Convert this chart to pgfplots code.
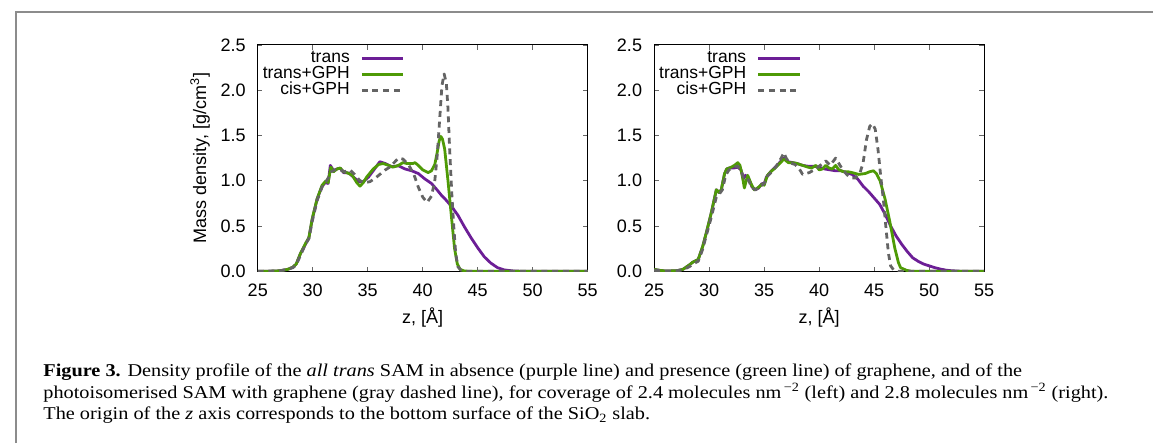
\documentclass[border=0pt]{standalone}
\usepackage{pgfplots}
\pgfplotsset{compat=1.18}
\usepackage{fontspec}
\setmainfont{Liberation Sans}
\newfontfamily\capfont{Liberation Serif}
\usepackage{graphicx}

\definecolor{cpurple}{RGB}{108,30,150}
\definecolor{cgreen}{RGB}{78,154,6}
\definecolor{cgray}{RGB}{100,100,100}
\definecolor{cframe}{RGB}{140,140,140}

\pgfplotstableread{
z d
25 0
26 0
27 0.005
27.7 0.02
28.2 0.045
28.5 0.08
28.9 0.2
29.35 0.3
29.65 0.37
29.95 0.57
30.4 0.8
30.85 0.94
31.15 0.98
31.4 0.97
31.6 1.17
31.9 1.11
32.2 1.13
32.5 1.14
32.8 1.09
33.3 1.085
33.7 1.04
34.2 0.99
34.6 0.99
35.07 1.04
35.5 1.11
36.1 1.21
36.6 1.19
37.2 1.155
37.8 1.165
38.4 1.13
39.0 1.11
39.6 1.08
40.2 1.02
40.8 0.97
41.3 0.90
41.7 0.84
42.1 0.79
42.6 0.72
43.2 0.62
43.8 0.49
44.4 0.37
45.0 0.26
45.6 0.16
46.2 0.09
46.8 0.04
47.4 0.015
48.2 0.004
49 0
55 0
}\LeftTrans

\pgfplotstableread{
z d
25 0
26 0
27 0.005
27.7 0.02
28.2 0.045
28.5 0.08
28.9 0.2
29.35 0.31
29.65 0.37
29.95 0.58
30.4 0.8
30.85 0.95
31.2 1.0
31.4 0.98
31.65 1.15
31.9 1.1
32.2 1.13
32.5 1.14
32.8 1.1
33.1 1.09
33.6 1.06
34.0 0.98
34.3 0.94
34.6 0.98
34.9 1.04
35.5 1.13
36.0 1.18
36.4 1.19
36.9 1.17
37.3 1.15
37.8 1.17
38.2 1.2
38.6 1.19
39.1 1.19
39.3 1.2
39.6 1.17
40.0 1.12
40.5 1.09
40.8 1.11
41.1 1.18
41.3 1.3
41.5 1.44
41.65 1.49
41.8 1.46
42.0 1.35
42.3 1.0
42.6 0.62
42.9 0.25
43.15 0.08
43.4 0.02
43.8 0.003
44.2 0
55 0
}\LeftTransG

\pgfplotstableread{
z d
25 0
27 0.005
27.7 0.02
28.2 0.04
28.5 0.07
28.9 0.18
29.35 0.3
29.65 0.36
29.95 0.55
30.4 0.78
30.85 0.93
31.2 0.99
31.5 1.05
31.7 1.1
32.0 1.12
32.5 1.12
32.9 1.1
33.4 1.12
33.8 1.07
34.3 1.0
34.8 0.98
35.2 0.99
35.7 1.03
36.2 1.08
36.6 1.12
37.0 1.15
37.4 1.2
37.8 1.25
38.2 1.24
38.7 1.18
39.2 1.07
39.6 0.93
40.0 0.82
40.4 0.76
40.8 0.83
41.1 1.0
41.3 1.25
41.5 1.6
41.75 2.05
41.95 2.18
42.15 2.08
42.3 1.8
42.45 1.35
42.65 0.85
42.85 0.45
43.0 0.2
43.2 0.05
43.5 0.01
44 0
55 0
}\LeftCis

\pgfplotstableread{
z d
25 0.02
25.5 0.01
26 0.003
27 0.005
27.6 0.02
28.2 0.07
28.5 0.1
29.0 0.13
29.4 0.27
29.75 0.43
30.2 0.65
30.65 0.9
30.9 0.87
31.1 0.9
31.4 1.08
31.6 1.13
31.8 1.14
32.2 1.14
32.6 1.15
32.9 1.12
33.1 1.02
33.3 1.06
33.6 1.02
33.9 0.93
34.2 0.9
34.5 0.92
34.8 0.97
35.0 0.96
35.2 1.04
35.6 1.1
36.0 1.15
36.4 1.2
36.8 1.25
37.2 1.21
37.6 1.2
38.0 1.19
38.5 1.17
39.0 1.16
39.5 1.16
40.0 1.15
40.5 1.13
41.0 1.12
41.5 1.11
42.0 1.11
42.5 1.09
43.0 1.07
43.5 1.02
44.0 0.94
44.5 0.88
45.0 0.81
45.5 0.74
46.0 0.63
46.5 0.5
47.0 0.39
47.5 0.3
48.0 0.22
48.5 0.15
49.0 0.11
49.5 0.08
50.0 0.06
50.5 0.04
51.0 0.025
51.5 0.013
52.0 0.006
52.8 0.001
53.5 0
55 0
}\RightTrans

\pgfplotstableread{
z d
25 0.02
25.5 0.01
26 0.003
27 0.005
27.6 0.02
28.2 0.07
28.5 0.1
29.0 0.13
29.4 0.27
29.75 0.43
30.2 0.65
30.65 0.9
30.9 0.87
31.1 0.9
31.4 1.08
31.6 1.13
31.8 1.14
32.0 1.15
32.3 1.17
32.6 1.2
32.8 1.17
33.0 1.06
33.2 0.92
33.5 1.06
33.8 0.97
34.1 0.9
34.4 0.92
34.85 0.965
35.0 0.95
35.3 1.06
35.6 1.1
36.0 1.14
36.4 1.19
36.8 1.24
37.2 1.2
37.6 1.2
38.0 1.19
38.5 1.17
39.0 1.15
39.3 1.14
39.7 1.17
40.0 1.12
40.3 1.13
40.6 1.17
40.9 1.14
41.2 1.13
41.5 1.17
41.8 1.12
42.2 1.1
42.6 1.1
43.0 1.09
43.6 1.07
44.2 1.08
44.6 1.1
44.94 1.11
45.2 1.08
45.54 1.0
45.99 0.8
46.44 0.54
46.89 0.25
47.2 0.1
47.4 0.04
47.95 0.01
48.4 0
55 0
}\RightTransG

\pgfplotstableread{
z d
25 0.01
26 0.003
27 0.005
27.6 0.015
28.2 0.05
28.5 0.08
29.0 0.11
29.4 0.24
29.75 0.4
30.2 0.6
30.65 0.82
30.9 0.85
31.2 0.9
31.5 1.06
31.8 1.12
32.2 1.15
32.6 1.16
32.9 1.12
33.1 1.04
33.3 1.05
33.6 1.0
33.9 0.92
34.2 0.9
34.5 0.92
34.8 0.95
35.0 0.97
35.3 1.05
35.7 1.1
36.1 1.16
36.5 1.24
36.8 1.31
37.0 1.25
37.3 1.2
37.8 1.18
38.2 1.13
38.5 1.07
39.1 1.09
39.7 1.13
40.3 1.19
40.6 1.22
41.0 1.17
41.5 1.25
42.0 1.15
42.5 1.07
42.9 1.03
43.3 1.03
43.7 1.08
44.0 1.2
44.3 1.45
44.6 1.6
44.85 1.63
45.1 1.57
45.35 1.35
45.6 1.05
45.85 0.78
46.1 0.45
46.3 0.2
46.5 0.06
46.8 0.01
47.2 0
55 0
}\RightCis

\pgfplotsset{
  densaxis/.style={
    scale only axis, width=249pt, height=170.8pt,
    xmin=25, xmax=55, ymin=0, ymax=2.5,
    xtick={25,30,35,40,45,50,55},
    ytick={0,0.5,1,1.5,2,2.5},
    tick align=inside, major tick length=3.5pt,
    axis line style={line width=0.75pt},
    every tick/.style={line width=0.6pt, black!60},
    /pgf/number format/assume math mode=true,
    y tick label style={/pgf/number format/fixed, /pgf/number format/fixed zerofill, /pgf/number format/precision=1},
    tick label style={font=\fontsize{13.6}{15}\selectfont},
    yticklabel style={inner sep=0pt, xshift=-9pt},
    xticklabel style={inner sep=0pt, yshift=-9.5pt},
    label style={font=\fontsize{13.6}{15}\selectfont},
    xlabel={z, [Å]},
    xlabel style={at={(axis description cs:0.5,-0.206)}, anchor=center},
    legend cell align=right,
    legend plot pos=right,
    legend image code/.code={\draw[##1] (0pt,0pt) -- (31.5pt,0pt);},
    legend style={draw=none, fill=none, at={(0.446,0.977)}, anchor=north east,
      inner sep=0pt, outer sep=0pt, column sep=8pt, row sep=0pt,
      font=\fontsize{13.2}{15}\selectfont,
      nodes={inner sep=0pt, text height=9.3pt, text depth=2.9pt}},
    every axis plot/.append style={line width=2.1pt, line join=round},
  },
  ptrans/.style={color=cpurple},
  pgreen/.style={color=cgreen},
  pcis/.style={color=cgray, dash pattern=on 4.5pt off 3.6pt},
}

\newcommand\capone{\textbf{Figure 3.} Density profile of the \textit{all trans} SAM in absence (purple line) and presence (green line) of graphene, and of the}
\newcommand\captwo{photoisomerised SAM with graphene (gray dashed line), for coverage of 2.4 molecules nm\textsuperscript{\,−2} (left) and 2.8 molecules nm\textsuperscript{\,−2} (right).}
\newcommand\capthree{The origin of the \textit{z} axis corresponds to the bottom surface of the SiO\textsubscript{2} slab.}
\newcommand\capsetup{\capfont\fontsize{13.6}{15}\selectfont}
\newlength\capw

\begin{document}
\settowidth\capw{\capsetup\captwo}
\pgfmathsetmacro\capscale{804/\capw}
\begin{tikzpicture}
\useasboundingbox (0,0) rectangle (864.75pt,-334.5pt);
\draw[cframe, line width=1.1pt] (6.5pt,-334.5pt) -- (6.5pt,-9.2pt) -- (864.75pt,-9.2pt);

\begin{axis}[densaxis, at={(189pt,-204.75pt)}, anchor=south west,
  ylabel={Mass density, [g/cm\textsuperscript{3}]},
  ylabel style={at={(axis description cs:-0.175,0.5)}, anchor=center}]
\addplot[ptrans] table[x=z,y=d] {\LeftTrans};
\addlegendentry{trans}
\addplot[pgreen] table[x=z,y=d] {\LeftTransG};
\addlegendentry{trans+GPH}
\addplot[pcis] table[x=z,y=d] {\LeftCis};
\addlegendentry{cis+GPH}
\end{axis}

\begin{axis}[densaxis, at={(488.25pt,-204.75pt)}, anchor=south west]
\addplot[ptrans] table[x=z,y=d] {\RightTrans};
\addlegendentry{trans}
\addplot[pgreen] table[x=z,y=d] {\RightTransG};
\addlegendentry{trans+GPH}
\addplot[pcis] table[x=z,y=d] {\RightCis};
\addlegendentry{cis+GPH}
\end{axis}

\node[anchor=base west, inner sep=0pt] at (27pt,-284.5pt) {\scalebox{\capscale}[1]{\capsetup\capone}};
\node[anchor=base west, inner sep=0pt] at (27pt,-300.7pt) {\scalebox{\capscale}[1]{\capsetup\captwo}};
\node[anchor=base west, inner sep=0pt] at (27pt,-317pt) {\scalebox{\capscale}[1]{\capsetup\capthree}};
\end{tikzpicture}
\end{document}
